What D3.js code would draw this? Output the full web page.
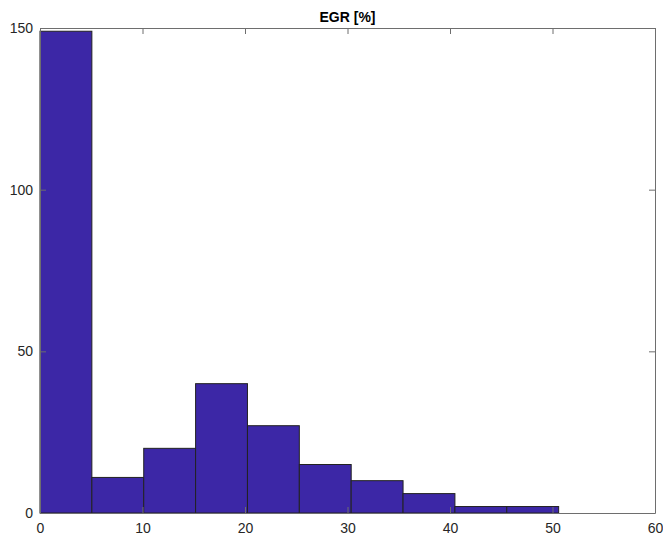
<!DOCTYPE html>
<html>
<head>
<meta charset="utf-8">
<script src="https://cdn.jsdelivr.net/npm/d3@7"></script>
<style>
  body { margin: 0; background: #fff; }
  text { font-family: "Liberation Sans", Arial, sans-serif; }
</style>
</head>
<body>
<div id="chart"></div>
<script>
// histogram of EGR [%], 10 bins
const binStart = [0, 5.06, 10.12, 15.18, 20.24, 25.3, 30.36, 35.42, 40.48, 45.54]
const binWidth = 5.06
const counts = [149, 11, 20, 40, 27, 15, 10, 6, 2, 2]
const xTicks = [0, 10, 20, 30, 40, 50, 60]
const yTicks = [0, 50, 100, 150]

const width = 663, height = 538
const m = { top: 28, right: 8, bottom: 25, left: 40 }

const svg = d3.select('#chart').append('svg')
  .attr('width', width)
  .attr('height', height)

const x = d3.scaleLinear().domain([0, 60]).range([m.left, width - m.right])
const y = d3.scaleLinear().domain([0, 150]).range([height - m.bottom, m.top])

const bins = binStart.map((s, i) => ({ x0: s, x1: s + binWidth, n: counts[i] }))

svg.selectAll('rect.bar')
  .data(bins)
  .enter()
  .append('rect')
  .attr('class', 'bar')
  .attr('x', d => x(d.x0))
  .attr('y', d => y(d.n))
  .attr('width', d => x(d.x1) - x(d.x0))
  .attr('height', d => y(0) - y(d.n))
  .attr('fill', '#3c27a6')
  .attr('stroke', '#222')
  .attr('stroke-width', 1)

const axisColor = '#6e6e6e'
const tickLen = 6

// bottom / top axes
const gb = svg.append('g').attr('transform', `translate(0,${y(0)})`)
  .call(d3.axisBottom(x).tickValues(xTicks).tickSizeInner(-tickLen).tickSizeOuter(0).tickPadding(10))
const gt = svg.append('g').attr('transform', `translate(0,${y(150)})`)
  .call(d3.axisTop(x).tickValues(xTicks).tickSizeInner(-tickLen).tickSizeOuter(0).tickFormat(''))
const gl = svg.append('g').attr('transform', `translate(${x(0)},0)`)
  .call(d3.axisLeft(y).tickValues(yTicks).tickSizeInner(-tickLen).tickSizeOuter(0).tickPadding(7))
const gr = svg.append('g').attr('transform', `translate(${x(60)},0)`)
  .call(d3.axisRight(y).tickValues(yTicks).tickSizeInner(-tickLen).tickSizeOuter(0).tickFormat(''))

;[gb, gt, gl, gr].forEach(g => {
  g.select('.domain').attr('stroke', axisColor)
  g.selectAll('.tick line').attr('stroke', axisColor)
  g.selectAll('.tick text')
    .attr('fill', '#262626')
    .style('font-size', '14px')
    .style('font-family', '"Liberation Sans", Arial, sans-serif')
})

svg.append('text')
  .attr('x', (x(0) + x(60)) / 2)
  .attr('y', 22)
  .attr('text-anchor', 'middle')
  .style('font-size', '14px')
  .style('font-weight', 'bold')
  .attr('fill', '#000')
  .text('EGR [%]')
</script>
</body>
</html>
